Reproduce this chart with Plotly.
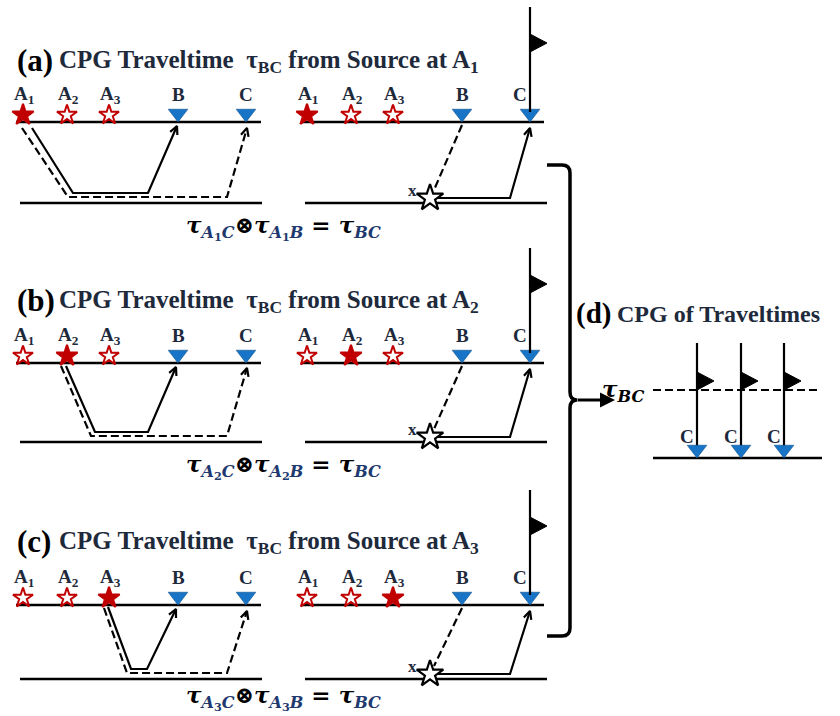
import math
import plotly.graph_objects as go

# ---------------- geometry / data of the schematic (pixel units, y downwards) ----------------
panel_tags = ["(a)", "(b)", "(c)"]
source_labels = ["A<sub>1</sub>", "A<sub>2</sub>", "A<sub>3</sub>"]
source_idx_active = [0, 1, 2]                 # which virtual source fires in each panel
surface_y = [122, 363, 605]                   # free surface per panel
reflector_y = [203, 442, 679]                 # reflector per panel
title_y = [60, 300, 541]
equation_y = [227, 466, 697]
label_y_offset = -27                          # station label above surface

source_x = [23, 67, 109]                      # A1, A2, A3 (left sketch)
receiver_labels = ["B", "C"]
receiver_x = [178, 246]                       # B, C (left sketch)
right_shift = 284                             # right sketch is a shifted copy
left_span = [16, 261]
right_span = [302, 544]
left_refl_span = [20, 262]
right_refl_span = [305, 547]

# ray paths of the left sketches: solid = A->B, dashed = A->C
solid_x = [[32, 73, 148, 177], [66, 95, 148, 176], [108, 131, 147, 176]]
solid_y = [[128, 193, 193, 126], [366, 432, 432, 367], [607, 669, 669, 609]]
dashed_x = [[22, 68, 227, 247], [61, 91, 227, 247], [104, 127, 227, 247]]
dashed_y = [[128, 197, 197, 128], [366, 436, 436, 368], [608, 673, 673, 611]]

# right sketches: virtual source x at the reflector
virtual_x = 430
kink_x = 510

# (d) panel: stacked CPG traveltimes
d_trace_x = [697, 741, 784]
d_top_y, d_bot_y = 343, 452
d_tau_y = 390
d_tau_span = [653, 818]
d_surface_span = [653, 822]
d_surface_y = 458

# curly brace joining (a)-(c) into (d)
brace_x_left, brace_x_spine = 547, 570
brace_top, brace_mid, brace_bot = 165, 400, 636
brace_arrow_end = 615

RED = "#C00000"
BLUE = "#1874C6"
NAVY = "#1E2A3B"
SUBBLUE = "#1F3A6E"
SERIF = "Liberation Serif, Times New Roman, serif"
MATH = "DejaVu Serif, serif"
DASH = "8px,4px"

fig = go.Figure()


def line(xs, ys, width=2.2, dash="solid", color="black"):
    fig.add_trace(go.Scatter(x=xs, y=ys, mode="lines",
                             line=dict(color=color, width=width, dash=dash),
                             hoverinfo="skip", showlegend=False))


def chevron(x0, y0, x1, y1, arm=9, spread=0.45):
    """open arrow head at (x1, y1) for the segment (x0, y0)->(x1, y1)"""
    ang = math.atan2(y1 - y0, x1 - x0)
    pts_x, pts_y = [], []
    for s in (spread, -spread):
        a = ang + math.pi - s
        pts_x.append(x1 + arm * math.cos(a))
        pts_y.append(y1 + arm * math.sin(a))
    line([pts_x[0], x1, pts_x[1]], [pts_y[0], y1, pts_y[1]], width=2.2)


def flag(x, y, w=17, h=18):
    fig.add_trace(go.Scatter(x=[x, x + w, x, x], y=[y - h / 2, y, y + h / 2, y - h / 2],
                             mode="lines", fill="toself", fillcolor="black",
                             line=dict(color="black", width=1),
                             hoverinfo="skip", showlegend=False))


def text(x, y, s, size=16, color=NAVY, xanchor="center", family=SERIF):
    fig.add_annotation(x=x, y=y, text=s, showarrow=False, xanchor=xanchor,
                       yanchor="middle", font=dict(size=size, color=color, family=family))


for p in range(3):
    sy, ry = surface_y[p], reflector_y[p]

    # titles
    text(15, title_y[p], "<b>" + panel_tags[p] + "</b>", size=31, color="black", xanchor="left")
    text(57, title_y[p] + 1,
         "<b>CPG Traveltime  τ<sub>BC</sub> from Source at A<sub>%d</sub></b>" % (p + 1),
         size=25, color=NAVY, xanchor="left")

    for shift, span, rspan in ((0, left_span, left_refl_span),
                               (right_shift, right_span, right_refl_span)):
        # surface and reflector
        line(span, [sy, sy], width=2.4)
        line(rspan, [ry, ry], width=2.4)
        # source stars + labels
        for i, sx in enumerate(source_x):
            active = i == source_idx_active[p]
            fig.add_trace(go.Scatter(
                x=[sx + shift], y=[sy - 7], mode="markers",
                marker=dict(symbol="star", size=16 if active else 15,
                            color=RED if active else "white",
                            line=dict(color=RED, width=2)),
                hoverinfo="skip", showlegend=False))
            text(sx + shift + 1, sy + label_y_offset, "<b>" + source_labels[i] + "</b>", size=19)
        # receivers
        for j, rx in enumerate(receiver_x):
            fig.add_trace(go.Scatter(
                x=[rx + shift], y=[sy - 8.5], mode="markers",
                marker=dict(symbol="triangle-down", size=17, color=BLUE,
                            line=dict(color="#0B4F8A", width=0.6)),
                hoverinfo="skip", showlegend=False))
            text(rx + shift - (10 if (shift and j == 1) else 0), sy + label_y_offset - 1,
                 "<b>" + receiver_labels[j] + "</b>", size=19)

    # left sketch: ray paths A->B (solid) and A->C (dashed)
    line(solid_x[p], solid_y[p], width=2.2)
    chevron(solid_x[p][-2], solid_y[p][-2], solid_x[p][-1], solid_y[p][-1])
    line(dashed_x[p], dashed_y[p], width=2.2, dash=DASH)
    chevron(dashed_x[p][-2], dashed_y[p][-2], dashed_x[p][-1], dashed_y[p][-1])

    # right sketch: correlated B->x (dashed) and x->C (solid)
    bx = receiver_x[0] + right_shift
    cx = receiver_x[1] + right_shift
    line([bx, virtual_x + 4], [sy + 3, ry - 13], width=2.2, dash=DASH)
    line([virtual_x + 6, kink_x, cx], [ry - 5, ry - 5, sy + 6], width=2.2)
    chevron(kink_x, ry - 5, cx, sy + 6)
    fig.add_trace(go.Scatter(
        x=[virtual_x], y=[ry - 5], mode="markers",
        marker=dict(symbol="star", size=20, color="white", line=dict(color="black", width=2.2)),
        hoverinfo="skip", showlegend=False))
    text(virtual_x - 18, ry - 13, "<b>x</b>", size=17)

    # CPG trace at C with its traveltime flag
    line([cx, cx], [sy - 115, sy - 10], width=2.2)
    flag(cx, sy - 79)

    # correlation equation
    eq = ("<b><i>τ</i><sub><span style='color:%s'><i>A</i><sub>%d</sub><i>C</i></span></sub>"
          "⊗<i>τ</i><sub><span style='color:%s'><i>A</i><sub>%d</sub><i>B</i></span></sub>"
          " = <i>τ</i><sub><span style='color:%s'><i>BC</i></span></sub></b>"
          % (SUBBLUE, p + 1, SUBBLUE, p + 1, SUBBLUE))
    text(283, equation_y[p], eq, size=23, color="black", family=MATH)

# ---------------- curly brace and arrow into (d) ----------------
bl, bs, bt, bm, bb = brace_x_left, brace_x_spine, brace_top, brace_mid, brace_bot
fig.add_shape(type="path", xref="x", yref="y",
              path=(f"M {bl},{bt} L {bs-8},{bt} Q {bs},{bt} {bs},{bt+8} "
                    f"L {bs},{bm-8} Q {bs},{bm} {bs+7},{bm} Q {bs},{bm} {bs},{bm+8} "
                    f"L {bs},{bb-8} Q {bs},{bb} {bs-8},{bb} L {bl},{bb}"),
              line=dict(color="black", width=3.5))
fig.add_annotation(x=brace_arrow_end, y=bm, ax=bs + 6, ay=bm, xref="x", yref="y",
                   axref="x", ayref="y", text="", showarrow=True,
                   arrowhead=2, arrowsize=1, arrowwidth=3, arrowcolor="black")

# ---------------- panel (d) ----------------
text(574, 313, "<b>(d)</b>", size=29, color="black", xanchor="left")
text(615, 314, "<b>CPG of Traveltimes</b>", size=24, color=NAVY, xanchor="left")
text(623, d_tau_y, "<b><i>τ</i><sub><i>BC</i></sub></b>", size=23, color="black", family=MATH)
line(d_tau_span, [d_tau_y, d_tau_y], width=2.2, dash=DASH)
line(d_surface_span, [d_surface_y, d_surface_y], width=2.4)
for tx in d_trace_x:
    line([tx, tx], [d_top_y, d_bot_y], width=2.2)
    flag(tx, d_tau_y - 9)
    fig.add_trace(go.Scatter(
        x=[tx], y=[d_surface_y - 8.5], mode="markers",
        marker=dict(symbol="triangle-down", size=17, color=BLUE,
                    line=dict(color="#0B4F8A", width=0.6)),
        hoverinfo="skip", showlegend=False))
    text(tx - 10, 436, "<b>C</b>", size=19)

fig.update_layout(
    width=840, height=716, margin=dict(l=0, r=0, t=0, b=0),
    paper_bgcolor="white", plot_bgcolor="white", showlegend=False,
    xaxis=dict(range=[0, 840], visible=False, fixedrange=True),
    yaxis=dict(range=[716, 0], visible=False, fixedrange=True),
)

fig.write_html("out.html")
